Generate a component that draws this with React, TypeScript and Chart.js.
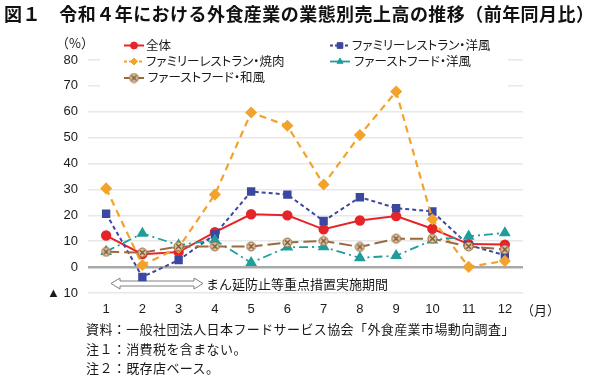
import React, { useEffect, useRef } from "react";
import { Chart, registerables } from "chart.js";
import { drawPoint } from "chart.js/helpers";

Chart.register(...registerables);

// ---- data ----
const months = ["1", "2", "3", "4", "5", "6", "7", "8", "9", "10", "11", "12"];
const seriesNames = [
  "全体",
  "ファミリーレストラン・洋風",
  "ファミリーレストラン・焼肉",
  "ファーストフード・洋風",
  "ファーストフード・和風",
];
const zentai = [12.2, 5.0, 5.8, 13.5, 20.4, 20.0, 14.6, 18.0, 19.7, 14.8, 8.9, 8.7];
const frYofu = [20.6, -3.8, 2.7, 12.6, 29.2, 28.0, 17.8, 27.0, 22.8, 21.5, 8.5, 4.6];
const frYakiniku = [30.4, 0.8, 7.5, 28.0, 59.7, 54.6, 31.9, 51.0, 67.8, 18.5, 0.1, 2.4];
const ffYofu = [6.0, 13.0, 8.5, 10.4, 1.7, 7.7, 7.8, 3.6, 4.4, 10.4, 11.9, 13.2];
const ffWafu = [5.9, 5.6, 8.0, 8.0, 8.0, 9.5, 10.1, 7.8, 11.0, 11.0, 8.0, 6.8];
const yMin = -10;
const yMax = 80;
const yStep = 10;
const titleText = "図１　令和４年における外食産業の業態別売上高の推移（前年同月比）";
const notes = [
  "資料：一般社団法人日本フードサービス協会「外食産業市場動向調査」",
  "注１：消費税を含まない。",
  "注２：既存店ベース。",
];
const periodLabel = "まん延防止等重点措置実施期間";

const COLORS = {
  red: "#e5252a",
  navy: "#3a48a0",
  orange: "#f2a32c",
  teal: "#1f9e9a",
  brown: "#9a6a3e",
};

// legend layout: [column x, row y] per dataset
const legendPos: [number, number][] = [
  [124, 45.5],
  [330, 45.5],
  [124, 61.5],
  [330, 61.5],
  [124, 78],
];

function makeWafuPoint(): HTMLCanvasElement {
  const c = document.createElement("canvas");
  c.width = 11;
  c.height = 11;
  const g = c.getContext("2d")!;
  g.beginPath();
  g.arc(5.5, 5.5, 4.5, 0, Math.PI * 2);
  g.fillStyle = "#dcc4a4";
  g.fill();
  g.lineWidth = 1;
  g.strokeStyle = COLORS.brown;
  g.stroke();
  g.beginPath();
  g.moveTo(3, 3);
  g.lineTo(8, 8);
  g.moveTo(8, 3);
  g.lineTo(3, 8);
  g.strokeStyle = "#7a4e28";
  g.lineWidth = 1.1;
  g.stroke();
  return c;
}

const decorPlugin = {
  id: "decor",
  beforeDatasetsDraw(chart: any) {
    const ctx = chart.ctx;
    ctx.save();
    // legend background box
    ctx.fillStyle = "#ffffff";
    ctx.fillRect(100, 36, 408, 53);
    // double-headed hollow arrow
    const x1 = 111, x2 = 203, cy = 283.5, hl = 9, hh = 5.5, sh = 2.5;
    ctx.beginPath();
    ctx.moveTo(x1, cy);
    ctx.lineTo(x1 + hl, cy - hh);
    ctx.lineTo(x1 + hl, cy - sh);
    ctx.lineTo(x2 - hl, cy - sh);
    ctx.lineTo(x2 - hl, cy - hh);
    ctx.lineTo(x2, cy);
    ctx.lineTo(x2 - hl, cy + hh);
    ctx.lineTo(x2 - hl, cy + sh);
    ctx.lineTo(x1 + hl, cy + sh);
    ctx.lineTo(x1 + hl, cy + hh);
    ctx.closePath();
    ctx.fillStyle = "#ffffff";
    ctx.fill();
    ctx.strokeStyle = "#808080";
    ctx.lineWidth = 1;
    ctx.stroke();
    ctx.restore();
  },
  afterDraw(chart: any) {
    const ctx = chart.ctx;
    chart.data.datasets.forEach((ds: any, i: number) => {
      const [lx, ly] = legendPos[i];
      ctx.save();
      ctx.beginPath();
      ctx.strokeStyle = ds.borderColor;
      ctx.lineWidth = ds.borderWidth;
      ctx.setLineDash(ds.legendDash || []);
      ctx.moveTo(lx, ly);
      ctx.lineTo(lx + 20, ly);
      ctx.stroke();
      ctx.setLineDash([]);
      ctx.fillStyle = ds.pointBackgroundColor;
      ctx.strokeStyle = ds.pointBorderColor;
      ctx.lineWidth = 1;
      drawPoint(
        ctx,
        { pointStyle: ds.pointStyle, radius: ds.legendRadius, rotation: 0, borderWidth: 1 },
        lx + 10,
        ly
      );
      ctx.restore();
    });
  },
};

export default function App() {
  const ref = useRef<HTMLCanvasElement | null>(null);

  useEffect(() => {
    if (!ref.current) return;
    const wafu = makeWafuPoint();
    const tickFont = { family: '"Liberation Sans", Arial, "DejaVu Sans", sans-serif', size: 13 };
    const chart = new Chart(ref.current, {
      type: "line",
      data: {
        labels: months,
        datasets: [
          {
            label: seriesNames[0],
            data: zentai,
            borderColor: COLORS.red,
            borderWidth: 2,
            pointStyle: "circle",
            pointRadius: 4.2,
            legendRadius: 3.5,
            pointBackgroundColor: COLORS.red,
            pointBorderColor: COLORS.red,
            order: 4,
          } as any,
          {
            label: seriesNames[1],
            data: frYofu,
            borderColor: COLORS.navy,
            borderWidth: 2,
            borderDash: [4, 3],
            legendDash: [3, 2],
            pointStyle: "rect",
            pointRadius: 4.5,
            legendRadius: 4,
            pointBackgroundColor: COLORS.navy,
            pointBorderColor: COLORS.navy,
            order: 3,
          } as any,
          {
            label: seriesNames[2],
            data: frYakiniku,
            borderColor: COLORS.orange,
            borderWidth: 2.2,
            borderDash: [7, 5],
            legendDash: [3, 2],
            pointStyle: "rectRot",
            pointRadius: 4.5,
            legendRadius: 3.5,
            pointBackgroundColor: COLORS.orange,
            pointBorderColor: COLORS.orange,
            order: 2,
          } as any,
          {
            label: seriesNames[3],
            data: ffYofu,
            borderColor: COLORS.teal,
            borderWidth: 1.8,
            borderDash: [9, 4, 2, 4],
            legendDash: [],
            pointStyle: "triangle",
            pointRadius: 5,
            legendRadius: 3.5,
            pointBackgroundColor: COLORS.teal,
            pointBorderColor: COLORS.teal,
            order: 1,
          } as any,
          {
            label: seriesNames[4],
            data: ffWafu,
            borderColor: COLORS.brown,
            borderWidth: 2,
            borderDash: [13, 5],
            legendDash: [],
            pointStyle: wafu,
            pointRadius: 5,
            legendRadius: 5,
            pointBackgroundColor: "#dcc4a4",
            pointBorderColor: COLORS.brown,
            order: 0,
          } as any,
        ],
      },
      options: {
        responsive: false,
        animation: false,
        devicePixelRatio: 1,
        layout: { padding: { left: 0, right: 77, top: 60, bottom: 56 } },
        plugins: {
          legend: { display: false },
          title: { display: false },
          tooltip: { enabled: false },
        },
        elements: { line: { tension: 0 } },
        scales: {
          x: {
            offset: true,
            grid: { display: false, drawTicks: false },
            border: { display: false },
            ticks: {
              padding: 9,
              color: "#1a1a1a",
              font: tickFont,
              maxRotation: 0,
              autoSkip: false,
            },
            afterFit(scale: any) {
              scale.height = 30;
            },
          },
          y: {
            min: yMin,
            max: yMax,
            ticks: {
              stepSize: yStep,
              padding: 10,
              color: "#1a1a1a",
              font: tickFont,
              callback: (v: any) => (v === -10 ? "▲ 10" : String(v)),
            },
            grid: {
              drawTicks: false,
              color: (c: any) => (c.tick && c.tick.value === 0 ? "#a8a8a8" : "#e8e8e8"),
              lineWidth: (c: any) => (c.tick && c.tick.value === 0 ? 2.5 : 1.5),
            },
            border: { display: false },
            afterFit(scale: any) {
              scale.width = 88;
            },
          },
        },
      },
      plugins: [decorPlugin],
    });
    return () => chart.destroy();
  }, []);

  const jp = '"Noto Sans CJK JP", "Noto Sans", sans-serif';
  const textAt = (cy: number, fs: number) => ({
    position: "absolute" as const,
    top: cy - fs / 2 - 0.5,
    height: fs,
    lineHeight: `${fs}px`,
    fontSize: fs,
    whiteSpace: "nowrap" as const,
  });

  return (
    <div
      style={{
        position: "absolute",
        left: 0,
        top: 0,
        width: 600,
        height: 379,
        background: "#ffffff",
        fontFamily: jp,
        color: "#1a1a1a",
        overflow: "hidden",
      }}
    >
      <canvas ref={ref} width={600} height={379} style={{ position: "absolute", left: 0, top: 0 }} />
      <div style={{ ...textAt(13, 18), left: 4, fontWeight: 700, letterSpacing: "0.45px", color: "#111" }}>
        {titleText}
      </div>
      <div style={{ ...textAt(42.5, 13), left: 56 }}>（%）</div>
      <div style={{ ...textAt(309.5, 13), left: 521 }}>（月）</div>
      {seriesNames.map((n, i) => (
        <div
          key={n}
          style={{
            ...textAt(legendPos[i][1], 12.5),
            left: legendPos[i][0] + (i === 4 || i === 3 ? 24 : 22),
            fontFeatureSettings: '"palt"',
          }}
        >
          {n}
        </div>
      ))}
      <div style={{ ...textAt(283.5, 13), left: 206 }}>{periodLabel}</div>
      {notes.map((t, i) => (
        <div key={t} style={{ ...textAt(329 + i * 19.5, 13), left: 86, letterSpacing: "0.4px" }}>
          {t}
        </div>
      ))}
    </div>
  );
}
